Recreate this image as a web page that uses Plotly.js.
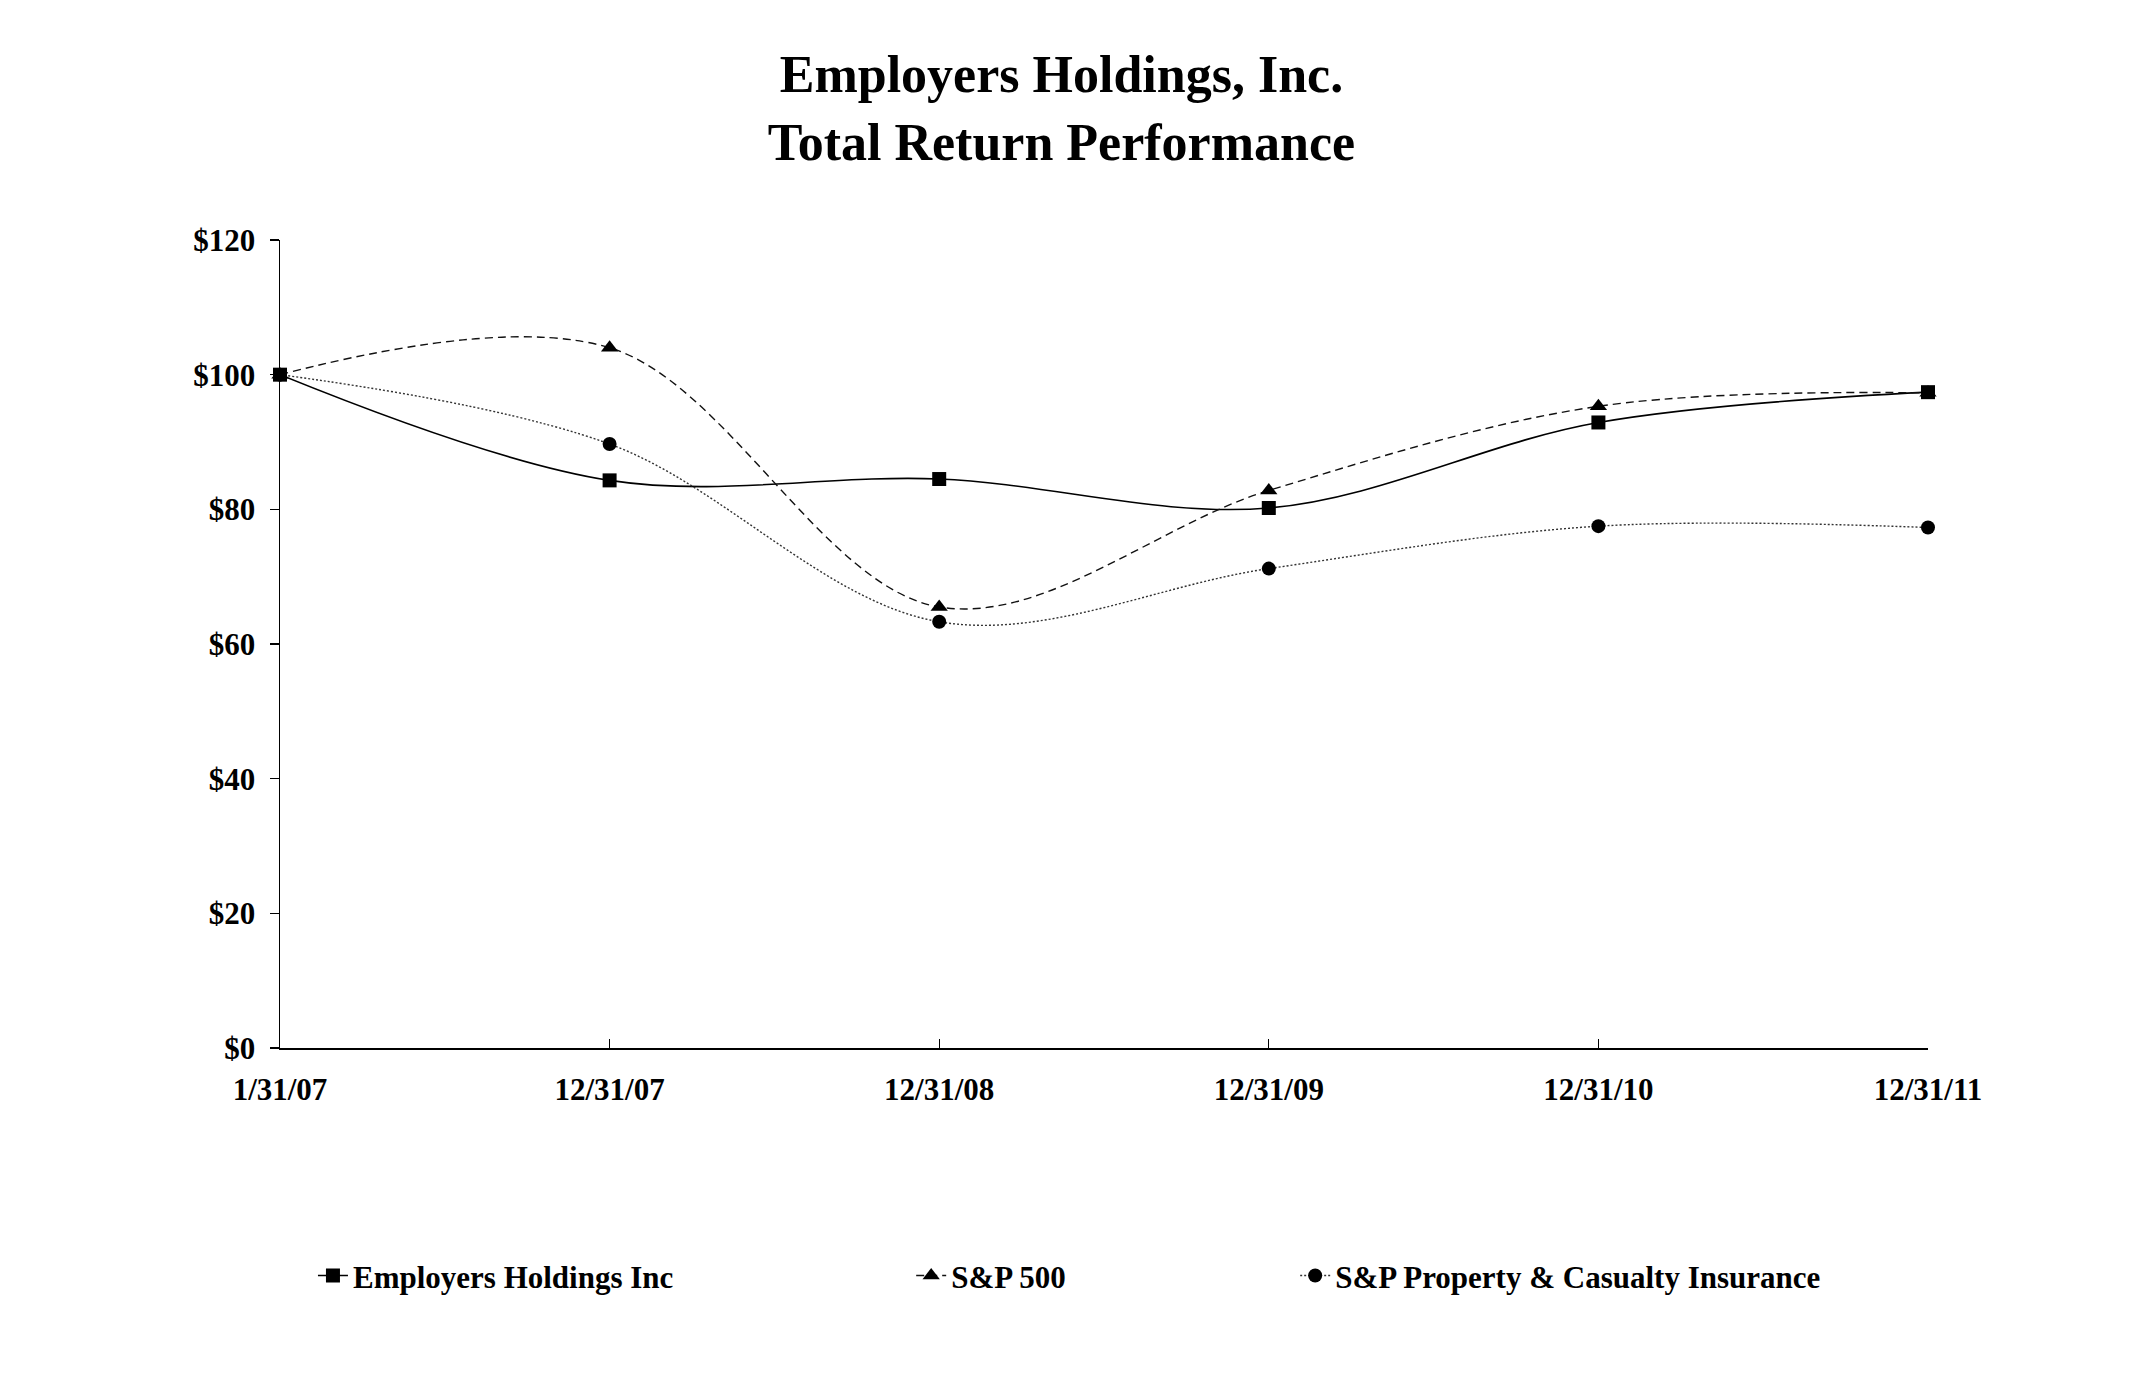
<!DOCTYPE html>
<html>
<head>
<meta charset="utf-8">
<script src="https://cdn.plot.ly/plotly-3.0.1.min.js"></script>
<style>html,body{margin:0;padding:0;background:#fff;}#chart{width:2140px;height:1394px;}</style>
</head>
<body>
<div id="chart"></div>
<script>
const categories = ['1/31/07', '12/31/07', '12/31/08', '12/31/09', '12/31/10', '12/31/11'];
const employersValues = [100, 84.3, 84.5, 80.2, 92.9, 97.4];
const sp500Values = [100, 104.0, 65.5, 82.8, 95.3, 97.3];
const spPCValues = [100, 89.7, 63.3, 71.2, 77.5, 77.3];
const seriesNames = ['Employers Holdings Inc', 'S&P 500', 'S&P Property & Casualty Insurance'];
const yTickValues = [0, 20, 40, 60, 80, 100, 120];
const yTickLabels = yTickValues.map(v => '$' + v);

const FONT = 'Liberation Serif, Times New Roman, serif';

const traces = [
  {
    x: categories, y: employersValues, name: seriesNames[0], type: 'scatter', mode: 'lines+markers',
    line: {color: '#000', width: 1.6, shape: 'spline', smoothing: 1},
    marker: {symbol: 'square', size: 14, color: '#000'},
    cliponaxis: false, legend: 'legend'
  },
  {
    x: categories, y: sp500Values, name: seriesNames[1], type: 'scatter', mode: 'lines+markers',
    line: {color: '#111', width: 1.4, shape: 'spline', smoothing: 1, dash: '8px,5px'},
    marker: {symbol: 'triangle-up', size: 15, color: '#000'},
    cliponaxis: false, legend: 'legend2'
  },
  {
    x: categories, y: spPCValues, name: seriesNames[2], type: 'scatter', mode: 'lines+markers',
    line: {color: '#333', width: 1.4, shape: 'spline', smoothing: 1, dash: '2px,2px'},
    marker: {symbol: 'circle', size: 14, color: '#000'},
    cliponaxis: false, legend: 'legend3'
  }
];

const legendBase = {
  orientation: 'h', yanchor: 'middle', xanchor: 'left', y: -0.282,
  font: {family: FONT, size: 31, color: '#000', weight: 'bold'},
  bgcolor: 'rgba(0,0,0,0)', borderwidth: 0, itemwidth: 30
};

const layout = {
  width: 2140, height: 1394,
  paper_bgcolor: '#fff', plot_bgcolor: '#fff',
  margin: {l: 280, r: 212, t: 240, b: 346},
  font: {family: FONT, color: '#000', weight: 'bold'},
  title: {
    text: 'Employers Holdings, Inc.<br>Total Return Performance',
    font: {family: FONT, size: 52, color: '#000', weight: 'bold'},
    xref: 'container', x: 0.496, xanchor: 'center',
    yref: 'container', y: 0.934, yanchor: 'middle'
  },
  xaxis: {
    type: 'category', range: [0, 5],
    showgrid: false, zeroline: false,
    showline: true, linecolor: '#000', linewidth: 2,
    ticks: 'inside', ticklen: 9, tickwidth: 1, tickcolor: '#000',
    tickfont: {family: FONT, size: 31, color: '#000', weight: 'bold'},
    ticklabelstandoff: 13,
    fixedrange: true
  },
  yaxis: {
    range: [0, 120], tickmode: 'array', tickvals: yTickValues, ticktext: yTickLabels,
    showgrid: false, zeroline: false,
    showline: true, linecolor: '#000', linewidth: 1.5,
    ticks: 'outside', ticklen: 9, tickwidth: 1.2, tickcolor: '#000',
    tickfont: {family: FONT, size: 31, color: '#000', weight: 'bold'},
    ticklabelstandoff: 8,
    fixedrange: true
  },
  showlegend: true,
  legend: Object.assign({}, legendBase, {x: 0.020}),
  legend2: Object.assign({}, legendBase, {x: 0.383}),
  legend3: Object.assign({}, legendBase, {x: 0.616})
};

Plotly.newPlot('chart', traces, layout, {displayModeBar: false, staticPlot: true});
</script>
</body>
</html>
